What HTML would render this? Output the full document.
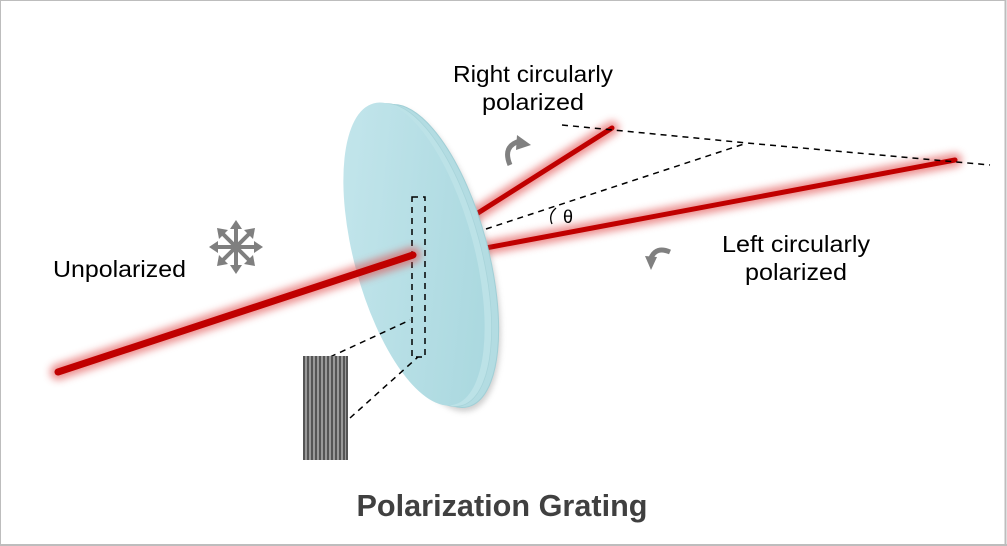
<!DOCTYPE html>
<html><head><meta charset="utf-8"><style>
html,body{margin:0;padding:0;background:#fff}
svg{display:block}
text{font-family:"Liberation Sans",Arial,sans-serif}
</style></head><body>
<svg width="1007" height="546" viewBox="0 0 1007 546" xmlns="http://www.w3.org/2000/svg">
<defs>
<filter id="glow" x="-20%" y="-50%" width="140%" height="200%"><feGaussianBlur stdDeviation="4"/></filter>
<filter id="sh" x="-30%" y="-30%" width="160%" height="160%"><feGaussianBlur stdDeviation="3"/></filter>
<linearGradient id="disk" x1="0" y1="0" x2="1" y2="1">
<stop offset="0" stop-color="#c6e7ed"/><stop offset="1" stop-color="#a6d6dd"/></linearGradient>
</defs>
<rect x="0.5" y="0.5" width="1005" height="544" fill="#fff" stroke="#bdbdbd" stroke-width="1"/>
<line x1="1005.5" y1="0" x2="1005.5" y2="546" stroke="#bdbdbd" stroke-width="2"/>
<line x1="0" y1="545" x2="1007" y2="545" stroke="#bdbdbd" stroke-width="2"/>

<!-- right beams (behind disk) -->
<g stroke-linecap="round">
<line x1="470" y1="218" x2="612" y2="128" stroke="#e04a4a" stroke-width="14" opacity="0.6" filter="url(#glow)"/>
<line x1="470" y1="218" x2="612" y2="128" stroke="#c00000" stroke-width="5"/>
<line x1="475" y1="250" x2="955" y2="160" stroke="#e04a4a" stroke-width="14" opacity="0.6" filter="url(#glow)"/>
<line x1="475" y1="250" x2="955" y2="160" stroke="#c00000" stroke-width="5"/>
</g>

<!-- disk -->
<ellipse cx="430" cy="260" rx="60" ry="156" transform="rotate(-15 430 260)" fill="#888" opacity="0.4" filter="url(#sh)"/>
<ellipse cx="428" cy="256" rx="60" ry="156" transform="rotate(-15 428 256)" fill="#b3dce2" stroke="#a0cfd6"/>
<ellipse cx="421" cy="255" rx="60" ry="156" transform="rotate(-15 421 255)" fill="#bce2e7" stroke="#a8d4da" stroke-width="0.8"/>
<ellipse cx="414" cy="254" rx="60" ry="156" transform="rotate(-15 414 254)" fill="url(#disk)"/>

<!-- dashed lines -->
<g stroke="#000" stroke-width="1.5" stroke-dasharray="6,5" fill="none">
<polyline points="486,229 747,143"/>
<polyline points="562,125 747,143 990,165"/>
<rect x="412" y="197" width="13" height="160"/>
<line x1="330" y1="357" x2="410" y2="320"/>
<line x1="350" y1="418" x2="418" y2="357"/>
</g>
<path d="M556,208 Q548,215 552,224" stroke="#000" stroke-width="1.3" fill="none"/>
<text x="563" y="223" font-size="18" fill="#000">θ</text>

<!-- incoming beam -->
<g stroke-linecap="round">
<line x1="58" y1="372" x2="413" y2="255" stroke="#e04a4a" stroke-width="16" opacity="0.6" filter="url(#glow)"/>
<line x1="58" y1="372" x2="413" y2="255" stroke="#c00000" stroke-width="7"/>
</g>

<!-- grating -->
<g fill="#555">
<rect x="303" y="356" width="45" height="104" fill="#999"/>
<rect x="303" y="356" width="2" height="104"/><rect x="307" y="356" width="2" height="104"/><rect x="311" y="356" width="2" height="104"/><rect x="315" y="356" width="2" height="104"/><rect x="319" y="356" width="2" height="104"/><rect x="323" y="356" width="2" height="104"/><rect x="327" y="356" width="2" height="104"/><rect x="331" y="356" width="2" height="104"/><rect x="335" y="356" width="2" height="104"/><rect x="339" y="356" width="2" height="104"/><rect x="343" y="356" width="2" height="104"/><rect x="346" y="356" width="2" height="104"/>
</g>

<!-- star -->
<g stroke="#7f7f7f" stroke-width="4">
<line x1="236" y1="229" x2="236" y2="265"/>
<line x1="218" y1="247" x2="254" y2="247"/>
<line x1="223" y1="234" x2="249" y2="260"/>
<line x1="249" y1="234" x2="223" y2="260"/>
</g>
<g fill="#7f7f7f">
<path d="M236,220 L242,229 L230,229 Z"/>
<path d="M236,274 L242,265 L230,265 Z"/>
<path d="M209,247 L218,241 L218,253 Z"/>
<path d="M263,247 L254,241 L254,253 Z"/>
<path d="M217,228 L228,230 L219,239 Z"/>
<path d="M255,228 L253,239 L244,230 Z"/>
<path d="M217,266 L219,255 L228,264 Z"/>
<path d="M255,266 L244,264 L253,255 Z"/>
</g>

<!-- circular arrows -->
<path d="M510,165 Q502,146 520,141" stroke="#808080" stroke-width="5" fill="none"/>
<path d="M517,135 L531,145 L516,150 Z" fill="#808080"/>
<path d="M670,252 Q656,246 651,258" stroke="#808080" stroke-width="5" fill="none"/>
<path d="M645,256 L657,257 L651,270 Z" fill="#808080"/>

<!-- labels -->
<g font-size="23" fill="#000" text-anchor="middle">
<text x="533" y="82" textLength="160" lengthAdjust="spacingAndGlyphs">Right circularly</text>
<text x="533" y="110" textLength="102" lengthAdjust="spacingAndGlyphs">polarized</text>
<text x="796" y="252" textLength="148" lengthAdjust="spacingAndGlyphs">Left circularly</text>
<text x="796" y="280" textLength="102" lengthAdjust="spacingAndGlyphs">polarized</text>
</g>
<text x="53" y="277" font-size="23" fill="#000" textLength="133" lengthAdjust="spacingAndGlyphs">Unpolarized</text>
<text x="502" y="516" font-size="31" font-weight="bold" fill="#404040" text-anchor="middle" textLength="291" lengthAdjust="spacingAndGlyphs">Polarization Grating</text>
</svg>
</body></html>
